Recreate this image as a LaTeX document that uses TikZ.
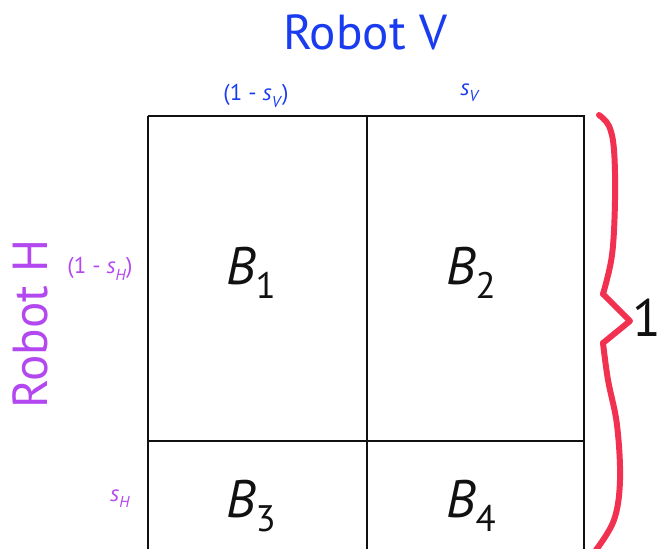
\documentclass[tikz,border=0pt]{standalone}
\usepackage{fontspec}
\setmainfont{PT Sans}
\usepackage{xcolor}
\usetikzlibrary{positioning,calc}
\definecolor{robotblue}{HTML}{1A3CF0}
\definecolor{robotpurple}{HTML}{B347F0}
\definecolor{bracered}{HTML}{F2304F}
\definecolor{ink}{HTML}{111111}
\newcommand{\cellname}[1]{\textit{B}\raisebox{-0.55ex}{\fontsize{21}{21}\selectfont #1}}
\newcommand{\shareof}[1]{\textit{s}\raisebox{-0.55ex}{\fontsize{9}{9}\selectfont\textit{#1}}}
\tikzset{
  gridline/.style={draw=ink,line width=1.2pt},
  cellbox/.style={font=\fontsize{30}{30}\selectfont,text=ink,inner sep=0pt},
  robotv/.style={font=\fontsize{28}{28}\selectfont,text=robotblue,inner sep=0pt},
  roboth/.style={font=\fontsize{28}{28}\selectfont,text=robotpurple,inner sep=0pt,rotate=90},
  vshare/.style={font=\fontsize{13}{13}\selectfont,text=robotblue,inner sep=0pt},
  hshare/.style={font=\fontsize{13}{13}\selectfont,text=robotpurple,inner sep=0pt},
  bracestroke/.style={draw=bracered,line width=3.4pt,line cap=round,line join=round}
}
\begin{document}
\begin{tikzpicture}[x=0.02cm,y=-0.02cm]
    \useasboundingbox (0,0) rectangle (659,548);
    \begin{scope}
      \clip (0,0) rectangle (659,548);
      % the square split into four blocks
      \draw[gridline] (148,116) -- (584,116) -- (584,560) (148,116) -- (148,560);
      \draw[gridline] (367,116) -- (367,560);
      \draw[gridline] (148,441) -- (584,441);
      % hand drawn brace
      \draw[bracestroke] plot[smooth,tension=0.6] coordinates
        {(599,115) (609,126) (614,150) (615,200) (612,255) (603,294)};
      \draw[bracestroke] (603,294) -- (630,321) -- (603,343);
      \draw[bracestroke] plot[smooth,tension=0.6] coordinates
        {(603,343) (608,380) (617,425) (620,480) (614,520) (596,550)};
    \end{scope}
    \node[cellbox] (b1) at (251,273) {\cellname{1}};
    \node[cellbox] (b2) at (471,273) {\cellname{2}};
    \node[cellbox] (b3) at (251,506) {\cellname{3}};
    \node[cellbox] (b4) at (471,506) {\cellname{4}};
    \node[robotv] (robotv) at (365,32) {Robot V};
    \node[vshare] (notsv) at (256,96) {(1 - \shareof{V})};
    \node[vshare] (sv) at (470,93) {\shareof{V}};
    \node[roboth] (roboth) at (30,324) {Robot H};
    \node[hshare] (notsh) at (100,269) {(1 - \shareof{H})};
    \node[hshare] (sh) at (120,499) {\shareof{H}};
    \node[font=\fontsize{30}{30}\selectfont,text=ink,inner sep=0pt] (one) at (647,318) {1};
  \end{tikzpicture}
\end{document}
